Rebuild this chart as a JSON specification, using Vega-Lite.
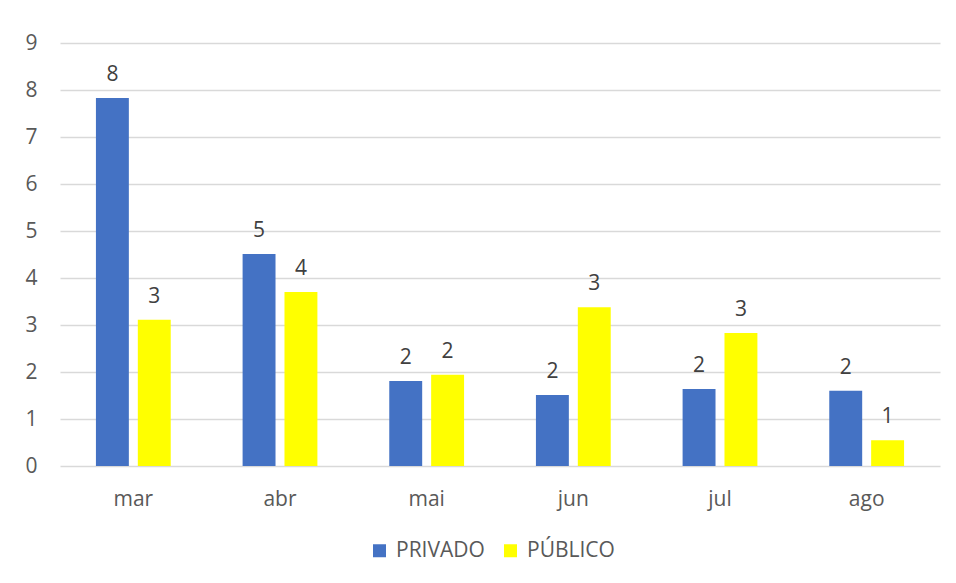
{
  "$schema": "https://vega.github.io/schema/vega-lite/v6.json",
  "width": 880,
  "height": 423,
  "autosize": {"type": "none"},
  "padding": {"left": 60, "top": 43, "right": 16, "bottom": 117},
  "background": "white",
  "config": {
    "view": {"stroke": null},
    "font": "Open Sans",
    "axis": {"labelFont": "Open Sans", "labelFontSize": 21, "labelColor": "#595959", "ticks": false, "domain": false, "title": null},
    "legend": {"labelFont": "Open Sans", "labelFontSize": 21, "labelColor": "#595959"}
  },
  "data": {
    "values": [
      {"mes": "mar", "setor": "PRIVADO", "valor": 7.83},
      {"mes": "mar", "setor": "PÚBLICO", "valor": 3.11},
      {"mes": "abr", "setor": "PRIVADO", "valor": 4.51},
      {"mes": "abr", "setor": "PÚBLICO", "valor": 3.70},
      {"mes": "mai", "setor": "PRIVADO", "valor": 1.81},
      {"mes": "mai", "setor": "PÚBLICO", "valor": 1.94},
      {"mes": "jun", "setor": "PRIVADO", "valor": 1.51},
      {"mes": "jun", "setor": "PÚBLICO", "valor": 3.38},
      {"mes": "jul", "setor": "PRIVADO", "valor": 1.64},
      {"mes": "jul", "setor": "PÚBLICO", "valor": 2.83},
      {"mes": "ago", "setor": "PRIVADO", "valor": 1.60},
      {"mes": "ago", "setor": "PÚBLICO", "valor": 0.55}
    ]
  },
  "encoding": {
    "x": {
      "field": "mes", "type": "nominal",
      "sort": ["mar", "abr", "mai", "jun", "jul", "ago"],
      "scale": {"paddingInner": 0.49, "paddingOuter": 0.245},
      "axis": {"labelAngle": 0, "labelPadding": 22, "grid": false}
    },
    "xOffset": {
      "field": "setor", "type": "nominal",
      "scale": {"domain": ["PRIVADO", "PÚBLICO"], "paddingInner": 0.214, "paddingOuter": 0}
    },
    "y": {
      "field": "valor", "type": "quantitative",
      "scale": {"domain": [0, 9], "nice": false},
      "axis": {"values": [0, 1, 2, 3, 4, 5, 6, 7, 8, 9], "gridColor": "#D9D9D9", "gridWidth": 1.5, "labelPadding": 23}
    }
  },
  "layer": [
    {
      "mark": {"type": "bar"},
      "encoding": {
        "color": {
          "field": "setor", "type": "nominal",
          "scale": {"domain": ["PRIVADO", "PÚBLICO"], "range": ["#4472C4", "#FFFF00"]},
          "legend": {
            "title": null, "orient": "none", "direction": "horizontal",
            "legendX": 309, "legendY": 497,
            "symbolType": "square", "symbolSize": 169, "symbolStrokeWidth": 0,
            "labelOffset": 6, "columnPadding": 15
          }
        }
      }
    },
    {
      "mark": {"type": "text", "baseline": "alphabetic", "dy": -17, "fontSize": 21, "color": "#404040", "font": "Open Sans"},
      "encoding": {
        "text": {"field": "valor", "type": "quantitative", "format": ".0f"}
      }
    }
  ]
}
